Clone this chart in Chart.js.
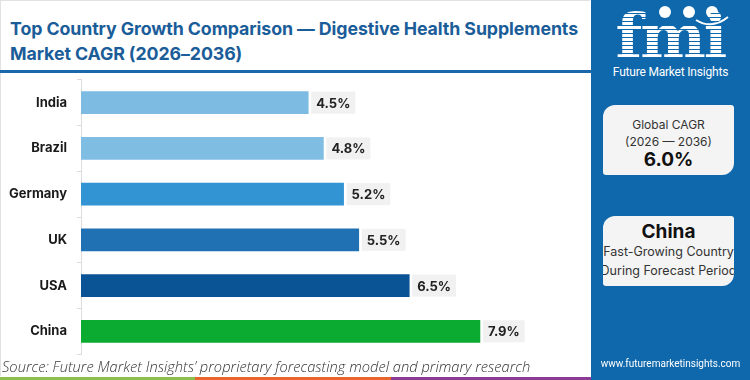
<!DOCTYPE html>
<html>
<head>
<meta charset="utf-8">
<script src="https://cdn.jsdelivr.net/npm/chart.js@4"></script>
<style>
  html,body{margin:0;padding:0;}
  body{width:750px;height:380px;position:relative;overflow:hidden;background:#fff;font-family:"Inter","Open Sans",sans-serif;}
  #left{position:absolute;left:0;top:0;width:590px;height:376px;border-left:1px solid #e2e2e2;border-top:1px solid #e2e2e2;box-sizing:border-box;}
  #title{position:absolute;left:10px;top:16px;font-weight:700;font-size:17.8px;line-height:25px;color:#1b5d99;letter-spacing:-0.1px;white-space:nowrap;}
  #rule{position:absolute;left:0;top:70px;width:591px;height:3px;background:#1a68ab;}
  #chartBox{position:absolute;left:0;top:62px;width:586px;height:310px;}
  #source{position:absolute;left:2px;top:356px;font-style:italic;font-size:14.7px;color:#333;white-space:nowrap;font-family:"Open Sans",sans-serif;font-weight:300;}
  #right{position:absolute;left:591px;top:0;width:159px;height:380px;background:#0f68ac;}
  #logo{position:absolute;left:0;top:0;width:159px;text-align:center;top:6px;font-family:"DejaVu Serif",serif;font-weight:700;font-size:62px;line-height:62px;
    background:repeating-linear-gradient(to bottom,#fff 0px,#fff 3px,#0f68ac 3px,#0f68ac 4px);-webkit-background-clip:text;background-clip:text;color:transparent;letter-spacing:-2px;}
  #fmitext{position:absolute;left:0;width:159px;top:65px;text-align:center;color:#fff;font-family:"Roboto",sans-serif;font-size:12px;letter-spacing:-0.2px;}
  .box{position:absolute;left:12px;width:131px;height:70px;background:#f4f4f4;border-radius:12px 3px 12px 3px;overflow:hidden;text-align:center;color:#333;font-family:"Inter",sans-serif;}
  #b1{top:105px;}
  #b2{top:216px;}
  .l{position:absolute;left:-20px;right:-20px;text-align:center;white-space:nowrap;}
  #web{position:absolute;left:0;width:159px;top:358px;text-align:center;color:#fff;font-size:10px;font-family:"Roboto",sans-serif;}
  #strip{position:absolute;left:0;top:377px;width:591px;height:3px;}
  #strip div{position:absolute;top:0;height:3px;}
</style>
</head>
<body>
<div id="left">
</div>
<div id="title">Top Country Growth Comparison — Digestive Health Supplements<br>Market CAGR (2026–2036)</div>
<div id="rule"></div>
<div id="chartBox"><canvas id="c"></canvas></div>
<div id="source">Source: Future Market Insights’ proprietary forecasting model and primary research</div>
<div id="strip">
  <div style="left:0;width:195px;background:#8cc04a"></div>
  <div style="left:195px;width:196px;background:#e8662c"></div>
  <div style="left:391px;width:200px;background:#8b3a96"></div>
</div>
<div id="right">
  <svg style="position:absolute;left:0;top:0" width="159" height="40">
    <circle cx="74" cy="12" r="6" fill="#fff"/>
    <circle cx="98" cy="12" r="6" fill="#fff"/>
    <circle cx="121" cy="12" r="6" fill="#fff"/>
    <path d="M105 20 Q121 30 137 17" stroke="#fff" stroke-width="2" fill="none"/>
  </svg>
  <div id="logo">fmi</div>
  <div id="fmitext">Future Market Insights</div>
  <div class="box" id="b1">
    <div class="l" style="top:12px;font-size:12px;">Global CAGR</div>
    <div class="l" style="top:29px;font-size:12px;">(2026 — 2036)</div>
    <div class="l" style="top:43px;font-size:19px;font-weight:700;color:#111;">6.0%</div>
  </div>
  <div class="box" id="b2">
    <div class="l" style="top:4px;font-size:19px;font-weight:700;color:#111;">China</div>
    <div class="l" style="top:28px;font-size:12.5px;">Fast-Growing Country</div>
    <div class="l" style="top:47px;font-size:12.5px;">During Forecast Period</div>
  </div>
  <div id="web">www.futuremarketinsights.com</div>
</div>
<script>
const categories = ["India","Brazil","Germany","UK","USA","China"];
const cagrValues = [4.5, 4.8, 5.2, 5.5, 6.5, 7.9];
const barColors = ["#7dbbe2","#80bde3","#3394d4","#1f71b3","#0a5394","#0aab30"];

const valueLabels = {
  id:'valueLabels',
  afterDatasetsDraw(chart){
    const ctx = chart.ctx;
    const meta = chart.getDatasetMeta(0);
    ctx.save();
    ctx.font = "700 13px Inter, 'Open Sans', sans-serif";
    ctx.textBaseline = 'middle';
    meta.data.forEach((bar,i)=>{
      const txt = cagrValues[i].toFixed(1) + '%';
      const w = ctx.measureText(txt).width;
      const x = bar.x + 3;
      ctx.fillStyle = '#f1f1f1';
      ctx.fillRect(x, bar.y - 11, w + 10, 22);
      ctx.fillStyle = '#222';
      ctx.fillText(txt, x + 5, bar.y + 1);
    });
    ctx.restore();
  }
};

new Chart(document.getElementById('c'), {
  type:'bar',
  data:{labels:categories, datasets:[{data:cagrValues, backgroundColor:barColors, borderWidth:0, barThickness:22}]},
  options:{
    indexAxis:'y',
    responsive:true, maintainAspectRatio:false, animation:false,
    layout:{padding:{left:0,right:0,top:0,bottom:0}},
    plugins:{legend:{display:false}, tooltip:{enabled:false}},
    scales:{
      x:{display:false, min:0, max:10},
      y:{
        afterFit(s){ s.width = 81; },
        grid:{drawOnChartArea:false, tickLength:4, color:'#dcdcdc', offset:true},
        border:{color:'#dcdcdc'},
        ticks:{color:'#1a1a1a', font:{family:"Inter, 'Open Sans', sans-serif", weight:'700', size:13}, padding:10}
      }
    }
  },
  plugins:[valueLabels]
});
</script>
</body>
</html>
